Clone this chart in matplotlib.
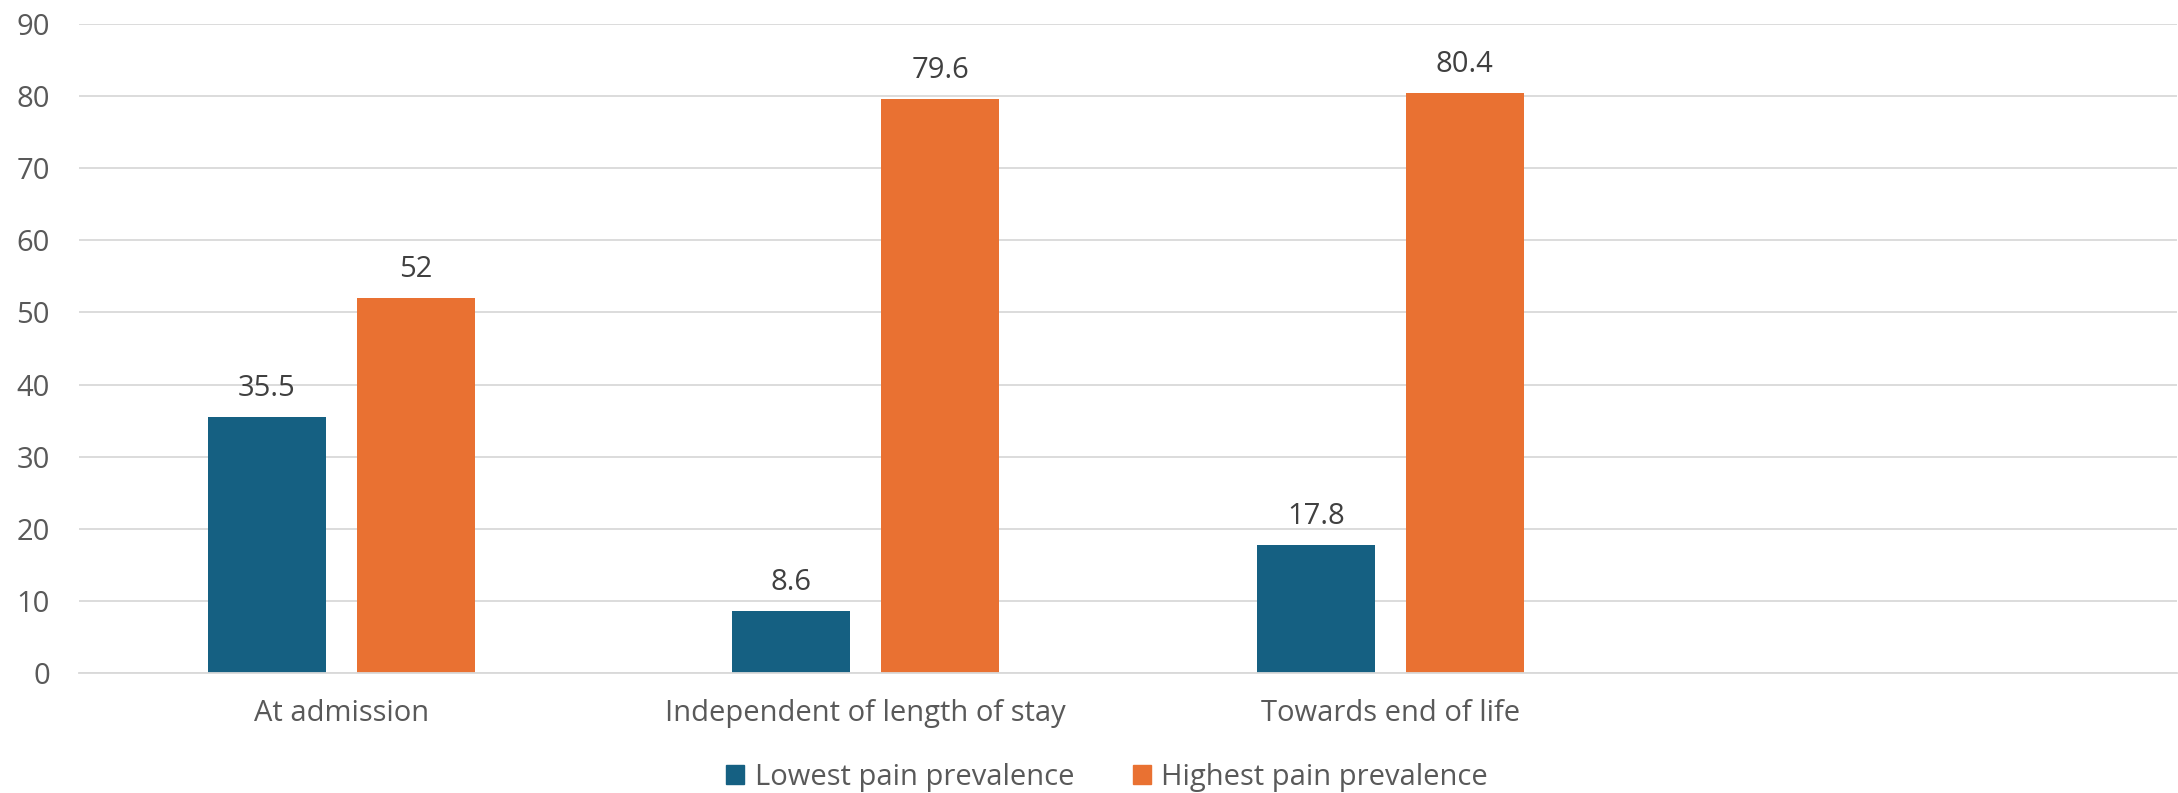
import matplotlib
matplotlib.use("Agg")
import matplotlib.pyplot as plt
from matplotlib.patches import Patch
import numpy as np

categories = ["At admission", "Independent of length of stay", "Towards end of life", ""]
lowest = [35.5, 8.6, 17.8, None]
highest = [52, 79.6, 80.4, None]
series_names = ["Lowest pain prevalence", "Highest pain prevalence"]
yticks = [0, 10, 20, 30, 40, 50, 60, 70, 80, 90]

BLUE = "#156082"
ORANGE = "#E97132"
GRID = "#D9D9D9"
TICK = "#595959"
LABEL = "#404040"
FS = 21

plt.rcParams["font.family"] = ["Open Sans", "DejaVu Sans"]

fig = plt.figure(figsize=(21.78, 7.93), dpi=100)
ax = fig.add_axes([79 / 2178, (793 - 673) / 793, (2177 - 79) / 2178, (673 - 24) / 793])

x = np.arange(len(categories))
width = 0.225
offset = 0.142
for vals, dx, color in [(lowest, -offset, BLUE), (highest, offset, ORANGE)]:
    xs = [xi + dx for xi, v in zip(x, vals) if v is not None]
    vs = [v for v in vals if v is not None]
    bars = ax.bar(xs, vs, width=width, color=color, zorder=3)
    for b, v in zip(bars, vs):
        ax.annotate(f"{v:g}", (b.get_x() + b.get_width() / 2, v),
                    xytext=(0, 10), textcoords="offset points",
                    ha="center", va="bottom", fontsize=FS, color=LABEL)

ax.set_xlim(-0.5, len(categories) - 0.5)
ax.set_ylim(0, 90)
ax.set_yticks(yticks)
ax.set_xticks(x)
ax.set_xticklabels(categories)
ax.yaxis.grid(True, color=GRID, linewidth=1.3, zorder=0)
ax.set_axisbelow(True)
for s in ["top", "right", "left"]:
    ax.spines[s].set_visible(False)
ax.spines["bottom"].set_color(GRID)
ax.spines["bottom"].set_linewidth(1.3)
ax.spines["bottom"].set_zorder(4)
ax.tick_params(axis="both", length=0, labelsize=FS, colors=TICK)
ax.tick_params(axis="y", pad=21)
ax.tick_params(axis="x", pad=19)
for lbl in ax.get_yticklabels():
    lbl.set_horizontalalignment("right")

handles = [Patch(color=BLUE, label=series_names[0]),
           Patch(color=ORANGE, label=series_names[1])]
fig.legend(handles=handles, loc="center", bbox_to_anchor=(1107 / 2178, 1 - 777 / 793),
           ncol=2, frameon=False, fontsize=FS, labelcolor=TICK,
           handlelength=0.62, handleheight=0.62, handletextpad=0.36,
           columnspacing=2.0)

fig.savefig("out.png", dpi=100)
